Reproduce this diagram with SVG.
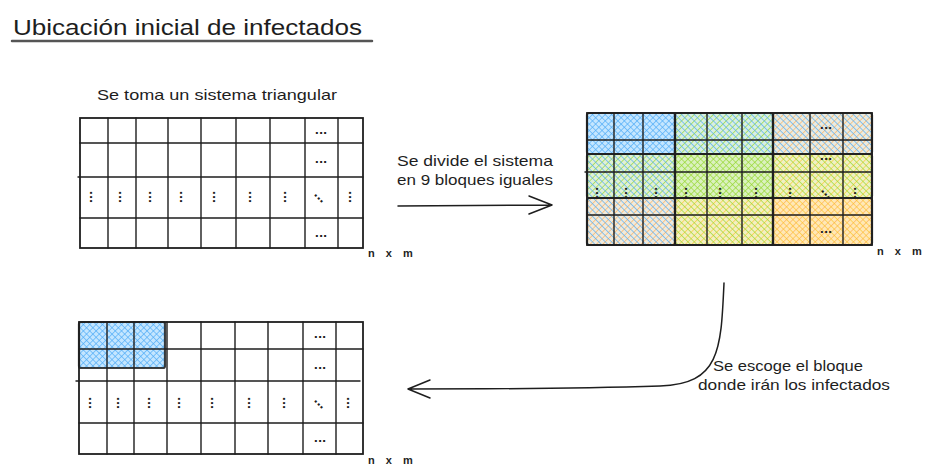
<svg xmlns="http://www.w3.org/2000/svg" width="929" height="476" viewBox="0 0 929 476">
<style>
  .t { font-family: "Liberation Sans", "DejaVu Sans", sans-serif; fill: #1e1e1e; }
  .grid { fill: none; stroke: #1e1e1e; stroke-width: 1.4; stroke-linecap: round; }
  .outer { fill: none; stroke: #1e1e1e; stroke-width: 1.8; }
  .blk { fill: none; stroke: #1e1e1e; stroke-width: 2.2; stroke-opacity: 0.85; }
  .base { fill-opacity: 0.65; }
  .dots { font-family: "DejaVu Sans", sans-serif; font-size: 11px; font-weight: bold; fill: #1e1e1e; text-anchor: middle; }
  .nxm { font-family: "Liberation Sans", sans-serif; font-size: 11px; font-weight: bold; fill: #1e1e1e; letter-spacing: 4px; }
  .conn { fill: none; stroke: #1e1e1e; stroke-width: 1.5; stroke-linecap: round; stroke-linejoin: round; }
</style>
<defs>
  <pattern id="bA" width="4.5" height="4.5" patternUnits="userSpaceOnUse" patternTransform="rotate(45)"><line x1="0" y1="0" x2="0" y2="4.5" stroke="#4dabf7" stroke-width="1.6" stroke-opacity="0.8"/></pattern>
  <pattern id="bB" width="4.5" height="4.5" patternUnits="userSpaceOnUse" patternTransform="rotate(-45)"><line x1="0" y1="0" x2="0" y2="4.5" stroke="#4dabf7" stroke-width="1.6" stroke-opacity="0.8"/></pattern>
  <pattern id="gA" width="4.5" height="4.5" patternUnits="userSpaceOnUse" patternTransform="rotate(45)"><line x1="0" y1="0" x2="0" y2="4.5" stroke="#94d82d" stroke-width="1.6" stroke-opacity="0.8"/></pattern>
  <pattern id="gB" width="4.5" height="4.5" patternUnits="userSpaceOnUse" patternTransform="rotate(-45)"><line x1="0" y1="0" x2="0" y2="4.5" stroke="#94d82d" stroke-width="1.6" stroke-opacity="0.8"/></pattern>
  <pattern id="yA" width="4.5" height="4.5" patternUnits="userSpaceOnUse" patternTransform="rotate(45)"><line x1="0" y1="0" x2="0" y2="4.5" stroke="#fcc419" stroke-width="1.6" stroke-opacity="0.7"/></pattern>
  <pattern id="yB" width="4.5" height="4.5" patternUnits="userSpaceOnUse" patternTransform="rotate(-45)"><line x1="0" y1="0" x2="0" y2="4.5" stroke="#fcc419" stroke-width="1.6" stroke-opacity="0.7"/></pattern>
  <pattern id="oA" width="4.5" height="4.5" patternUnits="userSpaceOnUse" patternTransform="rotate(45)"><line x1="0" y1="0" x2="0" y2="4.5" stroke="#ffa94d" stroke-width="1.6" stroke-opacity="0.75"/></pattern>
  <pattern id="oB" width="4.5" height="4.5" patternUnits="userSpaceOnUse" patternTransform="rotate(-45)"><line x1="0" y1="0" x2="0" y2="4.5" stroke="#ffa94d" stroke-width="1.6" stroke-opacity="0.75"/></pattern>
</defs>

<rect width="929" height="476" fill="#ffffff"/>

<g id="title">
  <text class="t" x="13" y="35" font-size="22" textLength="349" lengthAdjust="spacingAndGlyphs">Ubicación inicial de infectados</text>
  <line x1="12" y1="41" x2="372" y2="41" stroke="#555555" stroke-width="2.5" stroke-linecap="round"/>
</g>

<g id="original-system">
  <text class="t" x="97" y="100" font-size="15" textLength="240" lengthAdjust="spacingAndGlyphs">Se toma un sistema triangular</text>
  <rect class="outer" x="80" y="118" width="283" height="130"/>
  <path class="grid" d="M108,118V248M136,118V248M168,118V248M201,118V248M236,118V248M270,118V248M305,118V248M338,118V248M80,143H363M78,177H363M80,218H363"/>
  <text class="dots" x="321" y="134">...</text>
  <text class="dots" x="321" y="163">...</text>
  <text class="dots" x="321" y="237">...</text>
  <g class="dots">
    <text transform="translate(93,197) rotate(90)" y="3">...</text>
    <text transform="translate(122,197) rotate(90)" y="3">...</text>
    <text transform="translate(152,197) rotate(90)" y="3">...</text>
    <text transform="translate(183,197) rotate(90)" y="3">...</text>
    <text transform="translate(216,197) rotate(90)" y="3">...</text>
    <text transform="translate(252,197) rotate(90)" y="3">...</text>
    <text transform="translate(287,197) rotate(90)" y="3">...</text>
    <text transform="translate(320,197) rotate(45)" y="3">...</text>
    <text transform="translate(352,197) rotate(90)" y="3">...</text>
  </g>
  <text class="nxm" x="368" y="257">n x m</text>
</g>

<g id="divided-system">
  <g>
    <rect class="base" x="587" y="113" width="88" height="41" fill="#a5d8ff"/>
    <rect class="base" x="675" y="113" width="98" height="41" fill="#c3e6d3"/>
    <rect class="base" x="773" y="113" width="99" height="41" fill="#dfe0cf"/>
    <rect class="base" x="587" y="154" width="88" height="44" fill="#cfe8c0"/>
    <rect class="base" x="675" y="154" width="98" height="44" fill="#c8e99d"/>
    <rect class="base" x="773" y="154" width="99" height="44" fill="#e6eaa6"/>
    <rect class="base" x="587" y="198" width="88" height="47" fill="#e8dfc9"/>
    <rect class="base" x="675" y="198" width="98" height="47" fill="#ece6a2"/>
    <rect class="base" x="773" y="198" width="99" height="47" fill="#ffdc8f"/>
    <rect x="587" y="113" width="88" height="41" fill="url(#bA)"/><rect x="587" y="113" width="88" height="41" fill="url(#bB)"/>
    <rect x="675" y="113" width="98" height="41" fill="url(#gA)"/><rect x="675" y="113" width="98" height="41" fill="url(#bB)"/>
    <rect x="773" y="113" width="99" height="41" fill="url(#oA)"/><rect x="773" y="113" width="99" height="41" fill="url(#bB)"/>
    <rect x="587" y="154" width="88" height="44" fill="url(#gA)"/><rect x="587" y="154" width="88" height="44" fill="url(#bB)"/>
    <rect x="675" y="154" width="98" height="44" fill="url(#gA)"/><rect x="675" y="154" width="98" height="44" fill="url(#gB)"/>
    <rect x="773" y="154" width="99" height="44" fill="url(#yA)"/><rect x="773" y="154" width="99" height="44" fill="url(#gB)"/>
    <rect x="587" y="198" width="88" height="47" fill="url(#oA)"/><rect x="587" y="198" width="88" height="47" fill="url(#bB)"/>
    <rect x="675" y="198" width="98" height="47" fill="url(#yA)"/><rect x="675" y="198" width="98" height="47" fill="url(#gB)"/>
    <rect x="773" y="198" width="99" height="47" fill="url(#oA)"/><rect x="773" y="198" width="99" height="47" fill="url(#yB)"/>
  </g>
  <rect class="outer" x="587" y="113" width="285" height="132"/>
  <path class="grid" d="M614,113V245M643,113V245M675,113V245M707,113V245M742,113V245M773,113V245M810,113V245M843,113V245M587,140H872M585,172H872M587,215H872"/>
  <g>
    <rect class="blk" x="587" y="113" width="88" height="41" rx="2"/>
    <rect class="blk" x="675" y="113" width="98" height="41" rx="2"/>
    <rect class="blk" x="773" y="113" width="99" height="41" rx="2"/>
    <rect class="blk" x="587" y="154" width="88" height="44" rx="2"/>
    <rect class="blk" x="675" y="154" width="98" height="44" rx="2"/>
    <rect class="blk" x="773" y="154" width="99" height="44" rx="2"/>
    <rect class="blk" x="587" y="198" width="88" height="47" rx="2"/>
    <rect class="blk" x="675" y="198" width="98" height="47" rx="2"/>
    <rect class="blk" x="773" y="198" width="99" height="47" rx="2"/>
  </g>
  <text class="dots" x="826" y="129">...</text>
  <text class="dots" x="826" y="160">...</text>
  <text class="dots" x="826" y="233">...</text>
  <g class="dots">
    <text transform="translate(599,193) rotate(90)" y="3">...</text>
    <text transform="translate(628,193) rotate(90)" y="3">...</text>
    <text transform="translate(658,193) rotate(90)" y="3">...</text>
    <text transform="translate(688,193) rotate(90)" y="3">...</text>
    <text transform="translate(722,193) rotate(90)" y="3">...</text>
    <text transform="translate(758,193) rotate(90)" y="3">...</text>
    <text transform="translate(792,193) rotate(90)" y="3">...</text>
    <text transform="translate(827,193) rotate(45)" y="3">...</text>
    <text transform="translate(857,193) rotate(90)" y="3">...</text>
  </g>
  <text class="nxm" x="877" y="255">n x m</text>
</g>

<g id="selected-system">
  <rect class="base" x="79" y="322" width="86" height="46" fill="#a5d8ff"/>
  <rect x="79" y="322" width="86" height="46" fill="url(#bA)"/>
  <rect x="79" y="322" width="86" height="46" fill="url(#bB)"/>
  <rect class="outer" x="79" y="322" width="284" height="132"/>
  <path class="grid" d="M107,322V454M134,322V454M167,322V454M201,322V454M235,322V454M268,322V454M303,322V454M336,322V454M79,349H363M76,381H360M79,423H363"/>
  <rect class="blk" x="79" y="322" width="86" height="46" rx="2"/>
  <text class="dots" x="320" y="338">...</text>
  <text class="dots" x="320" y="369">...</text>
  <text class="dots" x="320" y="442">...</text>
  <g class="dots">
    <text transform="translate(92,403) rotate(90)" y="3">...</text>
    <text transform="translate(120,403) rotate(90)" y="3">...</text>
    <text transform="translate(151,403) rotate(90)" y="3">...</text>
    <text transform="translate(181,403) rotate(90)" y="3">...</text>
    <text transform="translate(214,403) rotate(90)" y="3">...</text>
    <text transform="translate(251,403) rotate(90)" y="3">...</text>
    <text transform="translate(286,403) rotate(90)" y="3">...</text>
    <text transform="translate(320,403) rotate(45)" y="3">...</text>
    <text transform="translate(350,403) rotate(90)" y="3">...</text>
  </g>
  <text class="nxm" x="368" y="464">n x m</text>
</g>

<g id="label-divide">
  <text class="t" x="397" y="166" font-size="15" textLength="156" lengthAdjust="spacingAndGlyphs">Se divide el sistema</text>
  <text class="t" x="397" y="185" font-size="15" textLength="156" lengthAdjust="spacingAndGlyphs">en 9 bloques iguales</text>
</g>

<g id="label-choose">
  <text class="t" x="713" y="371" font-size="15" textLength="150" lengthAdjust="spacingAndGlyphs">Se escoge el bloque</text>
  <text class="t" x="698" y="390" font-size="15" textLength="192" lengthAdjust="spacingAndGlyphs">donde irán los infectados</text>
</g>

<g id="connectors">
  <path class="conn" d="M398,206 L552,205 M529,196 L552,205 L529,214"/>
  <path class="conn" d="M724,283 C721,350 720,384 660,386 C560,389 480,389 408,389 M430,380 L408,389 L430,398"/>
</g>
</svg>
